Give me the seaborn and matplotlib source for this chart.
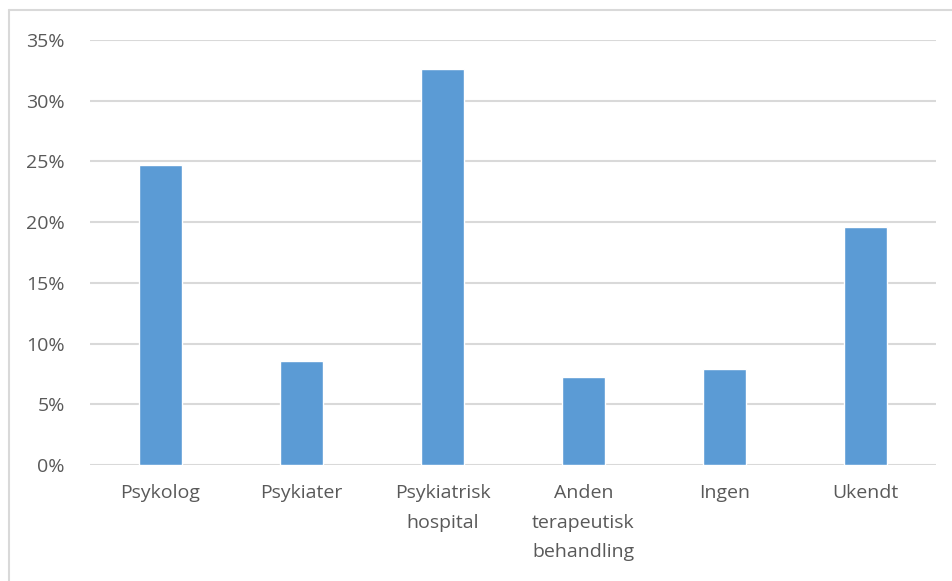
import matplotlib
matplotlib.use("Agg")
import matplotlib.pyplot as plt
import seaborn as sns
import pandas as pd
from matplotlib.lines import Line2D

categories = ["Psykolog", "Psykiater", "Psykiatrisk\nhospital",
              "Anden\nterapeutisk\nbehandling", "Ingen", "Ukendt"]
values = [24.7, 8.6, 32.6, 7.25, 7.9, 19.6]
yticks = [0, 5, 10, 15, 20, 25, 30, 35]
ytick_labels = ["0%", "5%", "10%", "15%", "20%", "25%", "30%", "35%"]

sns.set_theme(style="white")
plt.rcParams["font.family"] = ["Open Sans", "DejaVu Sans"]

df = pd.DataFrame({"cat": categories, "val": values})

fig = plt.figure(figsize=(9.52, 5.81), dpi=100)
ax = fig.add_axes([90/952, 1-465/581, (936-90)/952, (465-40)/581])

sns.barplot(data=df, x="cat", y="val", color="#5B9BD5", width=0.31,
            saturation=1, ax=ax, zorder=3)

ax.set_xlim(-0.5, len(categories)-0.5)
ax.set_ylim(0, 35)
ax.set_yticks(yticks)
ax.set_yticklabels(ytick_labels)
ax.set_xlabel("")
ax.set_ylabel("")
for s in ax.spines.values():
    s.set_visible(False)
ax.yaxis.grid(True, color="#D9D9D9", linewidth=1.5, zorder=0)
ax.set_axisbelow(True)
ax.tick_params(axis="y", length=0, pad=18, labelsize=14, labelcolor="#595959")
ax.tick_params(axis="x", length=0, pad=14, labelsize=14, labelcolor="#595959")
for lbl in ax.get_xticklabels():
    lbl.set_linespacing(1.8)
    lbl.set_verticalalignment("top")

# outer border (left and top)
fig.add_artist(Line2D([9/952, 9/952], [0, 1-10/581], transform=fig.transFigure,
                      color="#D9D9D9", linewidth=1.5))
fig.add_artist(Line2D([9/952, 1], [1-10/581, 1-10/581], transform=fig.transFigure,
                      color="#D9D9D9", linewidth=1.5))

fig.savefig("out.png", dpi=100)
